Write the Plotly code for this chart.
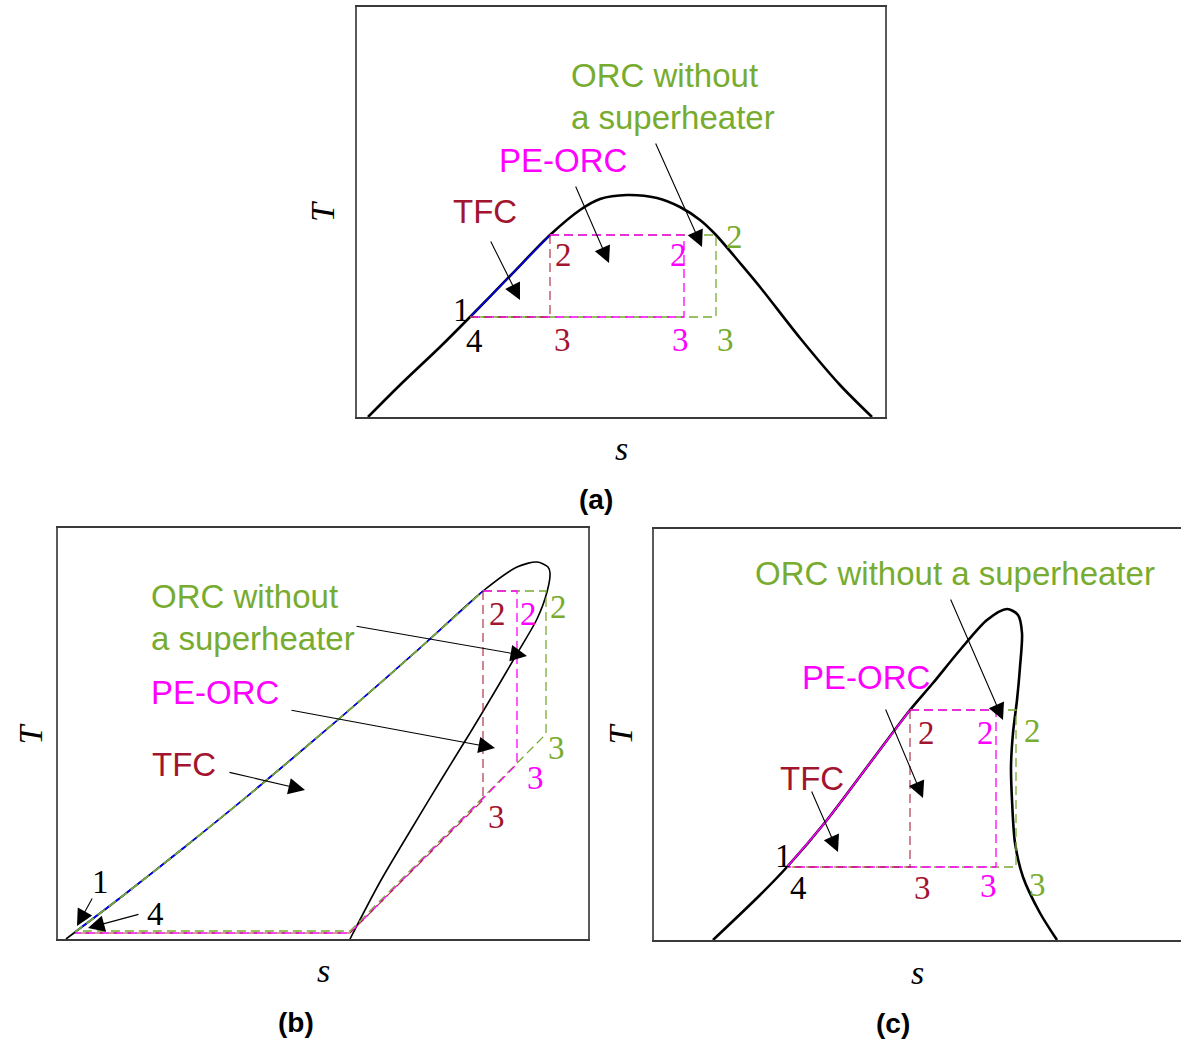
import plotly.graph_objects as go

RED = "#A2142F"
MAGENTA = "#FF00FF"
GREEN = "#77AC30"
BLUE = "#0000FF"

# ---------------- (a) bell-shaped saturation dome ----------------
dome_a_s = [11, 43, 83, 113, 153, 193, 223, 243, 270, 300, 323, 343, 359, 383, 403, 443, 483, 515]
dome_a_T = [0, 32, 70, 100, 141, 182, 207, 218, 222, 219, 210, 197, 182, 154, 130, 79, 32, 0]
liq_a_s = [113, 153, 193]
liq_a_T = [100, 141, 182]
tfc_a_s = [193, 193, 113]
tfc_a_T = [182, 100, 100]
pe_a_s = [193, 327, 327, 113]
pe_a_T = [182, 182, 100, 100]
orc_a_s = [193, 359, 359, 113]
orc_a_T = [182, 182, 100, 100]

# ---------------- (b) strongly overhanging dome ----------------
dome_b_s = [8, 62, 123, 192, 282, 362, 425, 459, 479, 490, 492, 489, 479, 460, 436, 412, 383, 354, 322, 292]
dome_b_T = [0, 41, 89, 145, 221, 291, 348, 372, 377, 372, 366, 347, 320, 287, 246, 206, 159, 111, 57, 0]
liq_b_s = [17, 62, 123, 192, 282, 362, 425]
liq_b_T = [7, 41, 89, 145, 221, 291, 348]
tfc_b_s = [425, 425, 292, 17]
tfc_b_T = [348, 139, 6, 6]
pe_b_s = [425, 459, 459, 292, 17]
pe_b_T = [348, 348, 175, 6, 6]
orc_b_s = [425, 488, 488, 292, 17]
orc_b_T = [348, 348, 205, 8, 8]

# ---------------- (c) S-shaped vapour line ----------------
dome_c_s = [59, 106, 133, 173, 216, 256, 279, 306, 333, 353, 364, 368, 366, 363, 359, 357, 358, 361, 369, 386, 403]
dome_c_T = [0, 45, 73, 120, 177, 230, 257, 290, 320, 331, 325, 307, 273, 240, 207, 173, 140, 97, 63, 27, 0]
liq_c_s = [133, 173, 216, 256]
liq_c_T = [73, 120, 177, 230]
tfc_c_s = [256, 256, 133]
tfc_c_T = [230, 73, 73]
pe_c_s = [256, 342, 342, 133]
pe_c_T = [230, 230, 73, 73]
orc_c_s = [256, 362, 362, 133]
orc_c_T = [230, 230, 73, 73]

# state-point numbers: (text, s, T, colour)
states_a = [("1", 104, 107, "black"), ("4", 117, 76, "black"),
            ("2", 206, 162, RED), ("3", 205, 77, RED),
            ("2", 321, 162, MAGENTA), ("3", 323, 77, MAGENTA),
            ("2", 377, 180, GREEN), ("3", 368, 77, GREEN)]
states_b = [("1", 42, 57, "black"), ("4", 97, 25, "black"),
            ("2", 439, 325, RED), ("3", 438, 122, RED),
            ("2", 470, 325, MAGENTA), ("3", 477, 161, MAGENTA),
            ("2", 500, 332, GREEN), ("3", 498, 191, GREEN)]
states_c = [("1", 129, 84, "black"), ("4", 144, 52, "black"),
            ("2", 272, 207, RED), ("3", 268, 52, RED),
            ("2", 331, 207, MAGENTA), ("3", 334, 54, MAGENTA),
            ("2", 378, 209, GREEN), ("3", 383, 55, GREEN)]

# cycle names: (text, s, T, colour, anchor)
names_a = [("ORC without", 212, 342, GREEN, "left"), ("a superheater", 212, 300, GREEN, "left"),
           ("PE-ORC", 206, 257, MAGENTA, "center"), ("TFC", 128, 206, RED, "center")]
names_b = [("ORC without", 91, 343, GREEN, "left"), ("a superheater", 91, 301, GREEN, "left"),
           ("PE-ORC", 91, 247, MAGENTA, "left"), ("TFC", 92, 175, RED, "left")]
names_c = [("ORC without a superheater", 301, 367, GREEN, "center"),
           ("PE-ORC", 212, 263, MAGENTA, "center"), ("TFC", 158, 162, RED, "center")]

# pointer arrows: (tail s, tail T, tip s, tip T)
arrows_a = [(133, 177, 163, 117), (218, 232, 252, 154), (298, 275, 345, 170)]
arrows_b = [(297, 313, 469, 283), (232, 229, 437, 191), (170, 167, 247, 149),
            (35, 42, 19, 13), (82, 25, 30, 11)]
arrows_c = [(296, 342, 349, 220), (231, 232, 269, 142), (157, 150, 184, 88)]

FIG_W, FIG_H = 1181, 1041
# panel frames in page pixels: left, top, right, bottom
frames = {
    "a": (357, 7, 885, 417),
    "b": (58, 528, 588, 939),
    "c": (654, 529, 1181, 940),
}

fig = go.Figure()
layout_axes = {}
annotations = []

panels = [
    ("a", "", dome_a_s, dome_a_T, liq_a_s, liq_a_T,
     (tfc_a_s, tfc_a_T), (pe_a_s, pe_a_T), (orc_a_s, orc_a_T),
     states_a, names_a, arrows_a, 2.6, 35, 0.453),
    ("b", "2", dome_b_s, dome_b_T, liq_b_s, liq_b_T,
     (tfc_b_s, tfc_b_T), (pe_b_s, pe_b_T), (orc_b_s, orc_b_T),
     states_b, names_b, arrows_b, 1.6, 28, 0.449),
    ("c", "3", dome_c_s, dome_c_T, liq_c_s, liq_c_T,
     (tfc_c_s, tfc_c_T), (pe_c_s, pe_c_T), (orc_c_s, orc_c_T),
     states_c, names_c, arrows_c, 2.6, 34, 0.454),
]

DASH = "9px,5px"
SPL = dict(shape="spline", smoothing=0.8)

for (key, n, ds, dT, ls, lT, tfc, pe, orc, states, names, arrows, dome_w, t_off, cap_x) in panels:
    left, top, right, bottom = frames[key]
    w, h = right - left, bottom - top
    xr, yr = "x" + n, "y" + n
    common = dict(xaxis=xr, yaxis=yr, mode="lines", showlegend=False, hoverinfo="skip")

    # saturation curve
    fig.add_trace(go.Scatter(x=ds, y=dT, line=dict(color="black", width=dome_w, **SPL), **common))

    # heating along the saturated-liquid line
    if key == "a":
        fig.add_trace(go.Scatter(x=ls, y=lT, line=dict(color=BLUE, width=1.4, **SPL), **common))
    elif key == "b":
        fig.add_trace(go.Scatter(x=ls, y=lT, line=dict(color=BLUE, width=1.6, **SPL), **common))
        fig.add_trace(go.Scatter(x=ls, y=lT, line=dict(color=GREEN, width=1.8, dash=DASH, **SPL), **common))
    else:
        fig.add_trace(go.Scatter(x=ls, y=lT, line=dict(color=MAGENTA, width=1.6, **SPL), **common))

    # expansion and condensation legs of each cycle
    fig.add_trace(go.Scatter(x=orc[0], y=orc[1], line=dict(color=GREEN, width=1.3, dash=DASH), **common))
    fig.add_trace(go.Scatter(x=pe[0], y=pe[1], line=dict(color=MAGENTA, width=1.3, dash=DASH), **common))
    fig.add_trace(go.Scatter(x=tfc[0], y=tfc[1], line=dict(color=RED, width=1.2, dash=DASH), opacity=0.85, **common))

    xa = "xaxis" + n
    ya = "yaxis" + n
    layout_axes[xa] = dict(
        domain=[left / FIG_W, right / FIG_W], range=[0, w], anchor=yr,
        showticklabels=False, ticks="", showgrid=False, zeroline=False,
        showline=True, linecolor="#3a3a3a", linewidth=1.5, mirror=True,
    )
    layout_axes[ya] = dict(
        domain=[1 - bottom / FIG_H, 1 - top / FIG_H], range=[0, h], anchor=xr,
        showticklabels=False, ticks="", showgrid=False, zeroline=False,
        showline=True, linecolor="#5a5a5a", linewidth=1.5, mirror=(key != "c"),
    )

    for txt, s, T, col in states:
        annotations.append(dict(x=s, y=T, xref=xr, yref=yr, text=txt, showarrow=False,
                                font=dict(family="Liberation Serif", size=33, color=col),
                                xanchor="center", yanchor="middle"))
    for txt, s, T, col, anc in names:
        annotations.append(dict(x=s, y=T, xref=xr, yref=yr, text=txt, showarrow=False,
                                font=dict(family="Liberation Sans", size=33, color=col),
                                xanchor=anc, yanchor="middle"))
    for s0, T0, s1, T1 in arrows:
        annotations.append(dict(x=s1, y=T1, ax=s0, ay=T0, xref=xr, yref=yr, axref=xr, ayref=yr,
                                text="", showarrow=True, arrowhead=2, arrowsize=3.0,
                                arrowwidth=1.1, arrowcolor="black", standoff=0))

    # axis symbols and panel caption
    annotations.append(dict(x=-t_off / w, y=0.5, xref=xr + " domain", yref=yr + " domain",
                            xanchor="center", yanchor="middle",
                            text="<i>T</i>", showarrow=False, textangle=-90,
                            font=dict(family="Liberation Serif", size=34, color="black")))
    annotations.append(dict(x=0.5, y=-32 / h, xref=xr + " domain", yref=yr + " domain",
                            xanchor="center", yanchor="middle",
                            text="<i>s</i>", showarrow=False,
                            font=dict(family="Liberation Serif", size=34, color="black")))
    annotations.append(dict(x=cap_x, y=-83 / h, xref=xr + " domain", yref=yr + " domain",
                            xanchor="center", yanchor="middle",
                            text="<b>(" + key + ")</b>", showarrow=False,
                            font=dict(family="Liberation Sans", size=28, color="black")))

fig.update_layout(
    width=FIG_W, height=FIG_H,
    margin=dict(l=0, r=0, t=0, b=0),
    paper_bgcolor="white", plot_bgcolor="white",
    annotations=annotations,
    **layout_axes,
)

fig.write_html("out.html")
